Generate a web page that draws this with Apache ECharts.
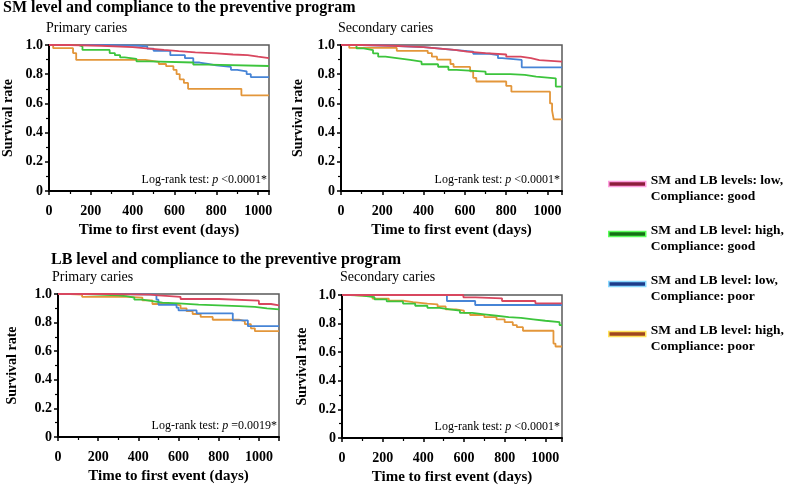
<!DOCTYPE html>
<html>
<head>
<meta charset="utf-8">
<script src="https://cdn.jsdelivr.net/npm/echarts@6/dist/echarts.min.js"></script>
<style>html,body{margin:0;padding:0;background:#fff}#c{width:787px;height:488px}</style>
</head>
<body>
<div id="c"></div>
<script>
// ---------- data ----------
const groupNames = [
  'SM and LB levels: low,\nCompliance: good',
  'SM and LB level: high,\nCompliance: good',
  'SM and LB level: low,\nCompliance: poor',
  'SM and LB level: high,\nCompliance: poor'
];
const yTicks = [0, 0.2, 0.4, 0.6, 0.8, 1.0];
const xTicks = [0, 200, 400, 600, 800, 1000];

// Panel 1: SM level, primary caries  [time (days), survival]
const smPrimaryLowGood = [[0,1],[100,0.995],[250,0.985],[400,0.975],[480,0.966],[550,0.958],[620,0.95],[700,0.943],[800,0.935],[880,0.93],[950,0.92],[1000,0.91]];
const smPrimaryHighGood = [[0,1],[140,0.99],[160,0.966],[290,0.945],[315,0.93],[340,0.915],[362,0.905],[418,0.888],[480,0.88],[690,0.865],[760,0.856]];
const smPrimaryLowPoor = [[0,1],[250,0.995],[430,0.99],[470,0.975],[500,0.96],[580,0.93],[650,0.91],[690,0.88],[720,0.87],[760,0.86],[800,0.85],[870,0.83],[900,0.82],[945,0.80],[965,0.78]];
const smPrimaryHighPoor = [[0,1],[20,0.978],[115,0.945],[130,0.898],[460,0.885],[525,0.87],[560,0.855],[595,0.83],[610,0.80],[625,0.765],[645,0.74],[665,0.70],[920,0.655]];

// Panel 2: SM level, secondary caries
const smSecondaryLowGood = [[0,1],[100,0.995],[250,0.985],[400,0.975],[480,0.966],[550,0.955],[610,0.945],[700,0.935],[800,0.92],[870,0.91],[920,0.897],[960,0.886]];
const smSecondaryHighGood = [[0,1],[75,0.977],[110,0.965],[155,0.943],[180,0.92],[215,0.91],[270,0.898],[335,0.886],[390,0.868],[470,0.851],[520,0.83],[560,0.818],[700,0.80],[820,0.795],[890,0.783],[945,0.772],[1040,0.715]];
const smSecondaryLowPoor = [[0,1],[100,0.995],[250,0.985],[400,0.975],[480,0.965],[560,0.955],[640,0.94],[720,0.93],[760,0.91],[780,0.898],[875,0.847]];
const smSecondaryHighPoor = [[0,1],[40,0.98],[270,0.96],[420,0.945],[440,0.92],[465,0.90],[530,0.87],[545,0.85],[625,0.82],[640,0.775],[655,0.75],[800,0.72],[825,0.68],[1012,0.60],[1022,0.55],[1030,0.49]];

// Panel 3: LB level, primary caries
const lbPrimaryLowGood = [[0,1],[250,0.995],[460,0.99],[500,0.98],[610,0.965],[800,0.953],[1000,0.93],[1060,0.92]];
const lbPrimaryHighGood = [[0,1],[130,0.99],[300,0.985],[340,0.975],[380,0.96],[420,0.95],[470,0.94],[520,0.935],[600,0.925],[700,0.915],[900,0.91],[980,0.90],[1040,0.893]];
const lbPrimaryLowPoor = [[0,1],[300,0.995],[490,0.96],[500,0.925],[590,0.905],[600,0.885],[690,0.865],[870,0.815],[945,0.775]];
const lbPrimaryHighPoor = [[0,1],[60,0.995],[120,0.98],[350,0.975],[420,0.955],[470,0.93],[580,0.92],[610,0.90],[640,0.88],[670,0.86],[710,0.84],[770,0.82],[900,0.81],[930,0.79],[960,0.76],[980,0.74]];

// Panel 4: LB level, secondary caries
const lbSecondaryLowGood = [[0,1],[597,0.984],[657,0.977],[787,0.958],[951,0.942]];
const lbSecondaryHighGood = [[0,1],[40,0.995],[100,0.985],[160,0.97],[220,0.955],[300,0.94],[360,0.925],[420,0.91],[480,0.90],[530,0.89],[580,0.875],[640,0.865],[700,0.855],[760,0.845],[820,0.84],[880,0.83],[940,0.82],[1000,0.81],[1070,0.79]];
const lbSecondaryLowPoor = [[0,1],[516,0.958],[655,0.93]];
const lbSecondaryHighPoor = [[0,1],[60,0.99],[150,0.975],[230,0.96],[300,0.95],[350,0.94],[420,0.935],[470,0.92],[510,0.90],[560,0.89],[600,0.875],[630,0.86],[700,0.845],[760,0.83],[800,0.81],[840,0.79],[860,0.775],[890,0.75],[1040,0.66],[1050,0.64]];

const panelSeries = [
  [smPrimaryLowGood, smPrimaryHighGood, smPrimaryLowPoor, smPrimaryHighPoor],
  [smSecondaryLowGood, smSecondaryHighGood, smSecondaryLowPoor, smSecondaryHighPoor],
  [lbPrimaryLowGood, lbPrimaryHighGood, lbPrimaryLowPoor, lbPrimaryHighPoor],
  [lbSecondaryLowGood, lbSecondaryHighGood, lbSecondaryLowPoor, lbSecondaryHighPoor]
];
const pValues = ['<0.0001*', '<0.0001*', '=0.0019*', '<0.0001*'];

// ---------- style / layout ----------
const FF = '"Liberation Serif","Times New Roman",serif';
const lineColors = ['#d8475f', '#3cc43c', '#4684d6', '#e3963a'];
const legendDark = ['#8e1d3c', '#157015', '#1c3c8c', '#a0461e'];
const legendGlow = ['#ff9fe0', '#5cff5c', '#8ad8ff', '#ffe25a'];
const panels = [
  {left: 49,  top: 45,  width: 220, height: 146, xMax: 1052, yGap: 34},
  {left: 341, top: 45,  width: 221, height: 146, xMax: 1070, yGap: 36},
  {left: 58,  top: 294, width: 221, height: 143, xMax: 1100, yGap: 39},
  {left: 342, top: 295, width: 220, height: 143, xMax: 1082, yGap: 33}
];

const grids = [], xAxes = [], yAxes = [], series = [];
panels.forEach((p, i) => {
  grids.push({left: p.left, top: p.top, width: p.width, height: p.height, show: true,
    borderColor: '#5a5a5a', borderWidth: 1.5, backgroundColor: 'transparent'});
  xAxes.push({type: 'value', gridIndex: i, min: 0, max: p.xMax, interval: 200,
    name: 'Time to first event (days)', nameLocation: 'middle', nameGap: 32,
    nameTextStyle: {fontFamily: FF, fontSize: 15, fontWeight: 'bold', color: '#000'},
    axisLine: {lineStyle: {color: '#000', width: 2}},
    axisTick: {length: 4, lineStyle: {color: '#000', width: 1.5}},
    minorTick: {show: true, splitNumber: 2, length: 3, lineStyle: {color: '#000', width: 1.2}},
    splitLine: {show: false},
    axisLabel: {fontFamily: FF, fontSize: 14, fontWeight: 'bold', color: '#000', margin: 13,
      showMaxLabel: false, formatter: v => xTicks.indexOf(v) >= 0 ? String(v) : ''}
  });
  yAxes.push({type: 'value', gridIndex: i, min: 0, max: 1, interval: 0.2,
    name: 'Survival rate', nameLocation: 'middle', nameGap: p.yGap, nameRotate: 90,
    nameTextStyle: {fontFamily: FF, fontSize: 14, fontWeight: 'bold', color: '#000'},
    axisLine: {lineStyle: {color: '#000', width: 2}},
    axisTick: {length: 4, lineStyle: {color: '#000', width: 1.5}},
    minorTick: {show: true, splitNumber: 2, length: 3, lineStyle: {color: '#000', width: 1.2}},
    splitLine: {show: false},
    axisLabel: {fontFamily: FF, fontSize: 14, fontWeight: 'bold', color: '#000', margin: 6,
      formatter: v => { const t = yTicks.find(k => Math.abs(k - v) < 1e-6); return t === undefined ? '' : (t === 0 ? '0' : t.toFixed(1)); }}
  });
  panelSeries[i].forEach((d, g) => {
    const last = d[d.length - 1];
    series.push({type: 'line', name: groupNames[g], xAxisIndex: i, yAxisIndex: i,
      step: 'end', showSymbol: false, symbol: 'none', silent: true,
      z: 2 + (3 - g),
      lineStyle: {color: lineColors[g], width: 1.8},
      itemStyle: {color: lineColors[g]},
      data: d.concat([[p.xMax, last[1]]])
    });
  });
});

const titleStyle = (size, weight) => ({fontFamily: FF, fontSize: size, fontWeight: weight, color: '#000'});
const titles = [
  {text: 'SM level and compliance to the preventive program', left: 3, top: 0, padding: 0, textStyle: titleStyle(16, 'bold')},
  {text: 'Primary caries', left: 46, top: 21, padding: 0, textStyle: titleStyle(14, 'normal')},
  {text: 'Secondary caries', left: 338, top: 21, padding: 0, textStyle: titleStyle(14, 'normal')},
  {text: 'LB level and compliance to the preventive program', left: 51, top: 252, padding: 0, textStyle: titleStyle(16, 'bold')},
  {text: 'Primary caries', left: 52, top: 270, padding: 0, textStyle: titleStyle(14, 'normal')},
  {text: 'Secondary caries', left: 340, top: 270, padding: 0, textStyle: titleStyle(14, 'normal')}
];
panels.forEach((p, i) => {
  titles.push({text: 'Log-rank test: {i|p} ' + pValues[i], right: 787 - (p.left + p.width) + 2,
    top: p.top + p.height - 17, padding: 0,
    textStyle: {fontFamily: FF, fontSize: 12, fontWeight: 'normal', color: '#000',
      rich: {i: {fontFamily: FF, fontSize: 12, fontStyle: 'italic', color: '#000'}}}});
});

const legendText = {fontFamily: FF, fontSize: 13.5, fontWeight: 'bold', color: '#000', lineHeight: 16};
const chart = echarts.init(document.getElementById('c'), null, {renderer: 'canvas'});
chart.setOption({
  animation: false,
  backgroundColor: '#fff',
  title: titles,
  legend: {orient: 'vertical', left: 603, top: 158, itemWidth: 37, itemHeight: 5, itemGap: 8,
    icon: 'rect', selectedMode: false,
    formatter: n => '{g| }\n' + n.split('\n').map(s => '{t|' + s + '}').join('\n'),
    textStyle: Object.assign({}, legendText, {rich: {
      g: {fontSize: 1, lineHeight: 10},
      t: legendText
    }}),
    data: groupNames.map((n, g) => ({name: n, icon: 'rect',
      itemStyle: {color: legendDark[g], borderColor: legendGlow[g], borderWidth: 1.5}}))
  },
  grid: grids, xAxis: xAxes, yAxis: yAxes, series: series
});
</script>
</body>
</html>
